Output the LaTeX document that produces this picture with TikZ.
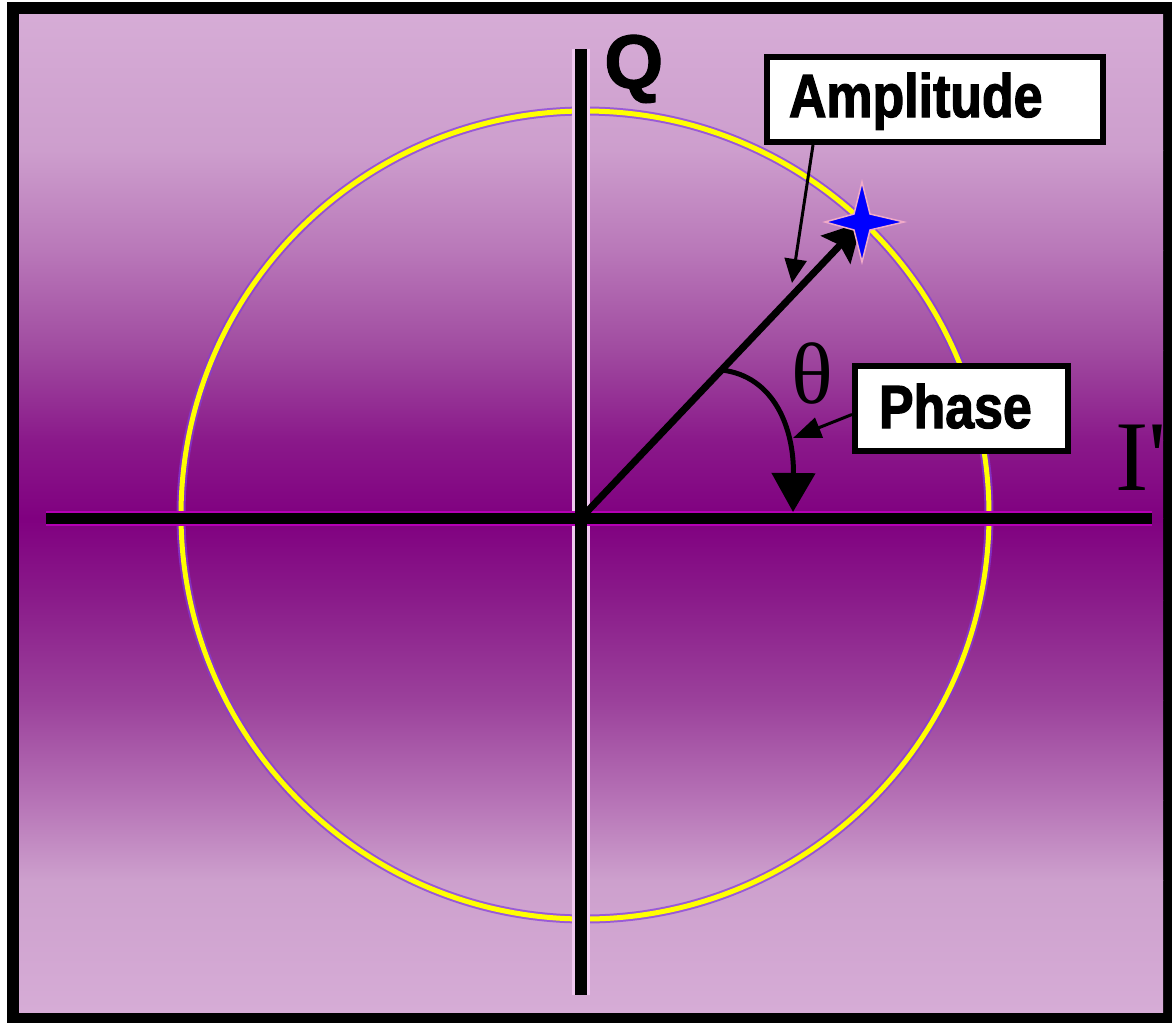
\documentclass[tikz,border=0pt]{standalone}
\usepackage{fontspec}
\usetikzlibrary{arrows.meta,calc}
\newfontfamily\labelfont[FakeStretch=0.85,FakeBold=2]{Liberation Sans}
\newfontfamily\qfont[FakeBold=1.5]{Liberation Sans}
\newfontfamily\seriffont{Liberation Serif}
\definecolor{bgA}{RGB}{214,172,214}
\definecolor{bgB}{RGB}{205,158,205}
\definecolor{bgC}{RGB}{185,120,185}
\definecolor{bgD}{RGB}{160,75,160}
\definecolor{bgE}{RGB}{138,25,138}
\definecolor{bgF}{RGB}{128,0,128}
\definecolor{bgG}{RGB}{138,28,138}
\definecolor{bgH}{RGB}{155,65,155}
\definecolor{bgI}{RGB}{182,115,182}
\definecolor{bgJ}{RGB}{205,160,205}
\definecolor{magedge}{RGB}{180,0,180}
\definecolor{pinkedge}{RGB}{240,200,240}
\definecolor{ringyellow}{RGB}{255,255,0}
\definecolor{ringedge}{RGB}{130,60,220}
\definecolor{starblue}{RGB}{0,0,255}
\definecolor{starhalo}{RGB}{240,170,200}
\begin{document}
\begin{tikzpicture}[x=1pt,y=-1pt,
  labelbox/.style={draw=black, line width=6pt, fill=white, inner ysep=0pt, align=left,
    font=\labelfont\bfseries\fontsize{61}{61}\selectfont},
  leader/.style={line width=3pt, black}]
\useasboundingbox (0,0) rectangle (1172,1023);
\fill[white] (0,0) rectangle (1172,1023);
\fill[black] (7,2) rectangle (1172,1023);
% background bands
\shade[top color=bgA, bottom color=bgB] (19,14) rectangle (1163,150.5);
\shade[top color=bgB, bottom color=bgC] (19,150) rectangle (1163,250.5);
\shade[top color=bgC, bottom color=bgD] (19,250) rectangle (1163,350.5);
\shade[top color=bgD, bottom color=bgE] (19,350) rectangle (1163,440.5);
\shade[top color=bgE, bottom color=bgF] (19,440) rectangle (1163,518.5);
\shade[top color=bgF, bottom color=bgG] (19,518) rectangle (1163,600.5);
\shade[top color=bgG, bottom color=bgH] (19,600) rectangle (1163,700.5);
\shade[top color=bgH, bottom color=bgI] (19,700) rectangle (1163,800.5);
\shade[top color=bgI, bottom color=bgJ] (19,800) rectangle (1163,880.5);
\shade[top color=bgJ, bottom color=bgA] (19,880) rectangle (1163,1012);
% coordinates
\coordinate (O) at (581,518);
\coordinate (S) at (862,222);
\coordinate (C) at (585,515);
\coordinate (axL) at (46,518.5);
\coordinate (axR) at (1152,518.5);
\coordinate (axT) at (581,49);
\coordinate (axB) at (581,995);
\coordinate (ampTip) at (792,283);
\coordinate (phTip) at (793,438);
\coordinate (arcEnd) at (793,512);
% circle
\draw[ringedge, opacity=0.7, line width=9pt] (C) circle[radius=404];
\draw[ringyellow, line width=5pt] (C) circle[radius=404];
% axes
\draw[pinkedge, line width=18pt] (axT) -- (axB);
\draw[magedge, line width=15pt] (axL) -- (axR);
\draw[black, line width=11pt] (axL) -- (axR);
\draw[black, line width=12pt] (axT) -- (axB);
% amplitude vector
\draw[black, line width=7pt, -{Stealth[length=38pt,width=40pt,inset=6pt]}] (O) -- (S);
% phase arc
\draw[black, line width=5pt, -{Triangle[length=39pt,width=43pt]}]
  ($(O)!0.5!(S)$) .. controls (774,376) and (794,428) .. (arcEnd);
% star
\begin{scope}[shift={(862,222)}]
\filldraw[fill=starblue, draw=starhalo, line width=1.5pt]
  (0,-40) -- (8,-8) -- (42,0) -- (8,8) -- (0,40) -- (-8,8) -- (-37,0) -- (-8,-8) -- cycle;
\end{scope}
% labels
\node[labelbox, text width=292pt, inner xsep=22pt, text height=60pt, text depth=25pt,
  anchor=base west] (amp) at (764,117) {Amplitude};
\node[labelbox, text width=165pt, inner xsep=24pt, text height=62pt, text depth=23pt,
  anchor=base west] (phase) at (852,428) {Phase};
\node[font=\qfont\bfseries\fontsize{76}{76}\selectfont, inner sep=0pt, anchor=base west]
  (qlabel) at (604,88) {Q};
\node[font=\seriffont\fontsize{100}{100}\selectfont, inner sep=0pt, anchor=base west]
  (ilabel) at (1115,490) {I'};
\node[font=\seriffont\fontsize{87}{87}\selectfont, inner sep=0pt, anchor=base]
  (theta) at (812,403) {θ};
% leaders
\draw[leader, -{Triangle[length=24pt,width=22pt]}] ($(amp.south west)+(49,0)$) -- (ampTip);
\draw[leader, -{Triangle[length=28pt,width=21pt]}] ($(phase.west)+(0,6)$) -- (phTip);
\end{tikzpicture}
\end{document}
